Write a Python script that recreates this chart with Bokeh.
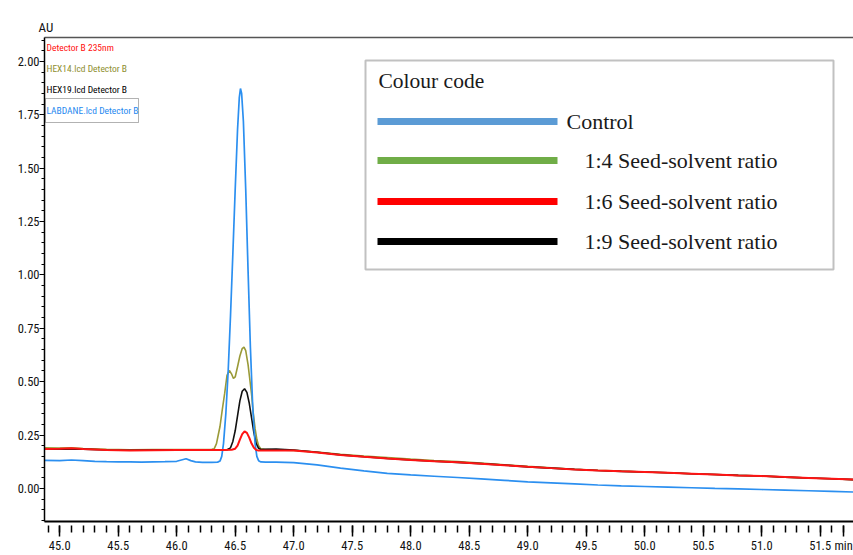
from bokeh.plotting import figure
from bokeh.models import (FixedTicker, NumeralTickFormatter, LinearAxis, Label,
                          BoxAnnotation)
from bokeh.embed import file_html
from bokeh.resources import INLINE
import numpy as np

# ---------------- data (retention time in min, absorbance in AU) ----------------
control_t = [44.87, 45.0, 45.1, 45.2, 45.3, 45.4, 45.5, 45.6, 45.7, 45.8, 45.9, 46.0,
             46.04, 46.08, 46.12, 46.16, 46.22, 46.30, 46.35, 46.37, 46.385, 46.40,
             46.42, 46.44, 46.46, 46.48, 46.50, 46.52, 46.535, 46.545, 46.555, 46.57,
             46.59, 46.61, 46.63, 46.65, 46.67, 46.685, 46.70, 46.72, 46.76, 46.85,
             47.0, 47.2, 47.4, 47.6, 47.8, 48.0, 48.2, 48.4, 48.6, 48.8, 49.0, 49.2,
             49.4, 49.6, 49.8, 50.0, 50.2, 50.4, 50.6, 50.8, 51.0, 51.2, 51.4, 51.6, 51.79]
control_au = [0.131, 0.130, 0.133, 0.130, 0.127, 0.125, 0.124, 0.124, 0.123, 0.124, 0.125, 0.127,
              0.133, 0.139, 0.130, 0.124, 0.122, 0.122, 0.123, 0.128, 0.150, 0.210,
              0.350, 0.550, 0.810, 1.100, 1.400, 1.680, 1.830, 1.873, 1.850, 1.720,
              1.400, 1.020, 0.660, 0.380, 0.210, 0.150, 0.130, 0.124, 0.123, 0.123,
              0.121, 0.110, 0.095, 0.082, 0.070, 0.063, 0.057, 0.051, 0.045, 0.038, 0.031, 0.026,
              0.021, 0.016, 0.012, 0.009, 0.006, 0.003, 0.000, -0.002, -0.005, -0.008, -0.011, -0.014, -0.017]

r14_t = [44.87, 45.0, 45.1, 45.2, 45.4, 45.6, 45.8, 46.0, 46.2, 46.30, 46.32, 46.34,
         46.355, 46.37, 46.39, 46.41, 46.43, 46.45, 46.47, 46.485, 46.50, 46.52, 46.54,
         46.56, 46.575, 46.59, 46.61, 46.625, 46.64, 46.655, 46.67, 46.685, 46.70, 46.72,
         46.75, 46.85, 47.0, 47.2, 47.4, 47.6, 47.8, 48.0, 48.2, 48.4, 48.6, 48.8, 49.0,
         49.2, 49.4, 49.6, 49.8, 50.0, 50.2, 50.4, 50.6, 50.8, 51.0, 51.2, 51.4, 51.6, 51.79]
r14_au = [0.190, 0.189, 0.190, 0.187, 0.183, 0.181, 0.182, 0.182, 0.182, 0.183, 0.185, 0.210,
          0.250, 0.290, 0.370, 0.445, 0.530, 0.552, 0.535, 0.515, 0.522, 0.570, 0.620,
          0.655, 0.662, 0.645, 0.580, 0.510, 0.440, 0.350, 0.280, 0.230, 0.200, 0.185,
          0.183, 0.180, 0.178, 0.170, 0.160, 0.151, 0.144, 0.137, 0.131, 0.126, 0.119, 0.111, 0.103,
          0.096, 0.090, 0.085, 0.081, 0.077, 0.073, 0.069, 0.065, 0.061, 0.058, 0.053, 0.049, 0.045, 0.041]

r16_t = [44.87, 45.0, 45.1, 45.2, 45.4, 45.6, 45.8, 46.0, 46.2, 46.4, 46.47, 46.50,
         46.52, 46.54, 46.56, 46.58, 46.60, 46.62, 46.64, 46.66, 46.68, 46.70, 46.75,
         46.85, 47.0, 47.2, 47.4, 47.6, 47.8, 48.0, 48.2, 48.4, 48.6, 48.8, 49.0, 49.2,
         49.4, 49.6, 49.8, 50.0, 50.2, 50.4, 50.6, 50.8, 51.0, 51.2, 51.4, 51.6, 51.79]
r16_au = [0.185, 0.186, 0.188, 0.185, 0.180, 0.178, 0.179, 0.180, 0.180, 0.180, 0.181, 0.186,
          0.200, 0.228, 0.254, 0.267, 0.260, 0.238, 0.210, 0.190, 0.180, 0.177, 0.177,
          0.178, 0.177, 0.168, 0.157, 0.148, 0.140, 0.133, 0.127, 0.122, 0.116, 0.109, 0.101, 0.095,
          0.089, 0.084, 0.080, 0.077, 0.073, 0.069, 0.065, 0.061, 0.058, 0.053, 0.049, 0.045, 0.041]

r19_t = [44.87, 45.0, 45.2, 45.4, 45.6, 45.8, 46.0, 46.2, 46.40, 46.43, 46.46, 46.48,
         46.50, 46.52, 46.54, 46.56, 46.58, 46.60, 46.62, 46.64, 46.66, 46.68, 46.70,
         46.72, 46.75, 46.85, 47.0, 47.2, 47.4, 47.6, 47.8, 48.0, 48.2, 48.4, 48.6, 48.8,
         49.0, 49.2, 49.4, 49.6, 49.8, 50.0, 50.2, 50.4, 50.6, 50.8, 51.0, 51.2, 51.4, 51.6, 51.79]
r19_au = [0.184, 0.185, 0.184, 0.180, 0.179, 0.180, 0.181, 0.181, 0.181, 0.181, 0.190, 0.220,
          0.270, 0.340, 0.410, 0.455, 0.467, 0.450, 0.400, 0.330, 0.260, 0.210, 0.188,
          0.182, 0.183, 0.184, 0.180, 0.169, 0.157, 0.148, 0.140, 0.133, 0.127, 0.122, 0.116, 0.109,
          0.101, 0.095, 0.089, 0.084, 0.080, 0.077, 0.073, 0.069, 0.065, 0.061, 0.058, 0.053, 0.049, 0.045, 0.041]

x_major_ticks = [45.0, 45.5, 46.0, 46.5, 47.0, 47.5, 48.0, 48.5, 49.0, 49.5, 50.0, 50.5, 51.0, 51.5]
y_major_ticks = [0.0, 0.25, 0.5, 0.75, 1.0, 1.25, 1.5, 1.75, 2.0]
x_unit_pos = 51.7          # where the "min" unit caption sits on the time axis
x_unit_text = "min"
y_unit_text = "AU"

legend_labels = ["Control", "1:4 Seed-solvent ratio", "1:6 Seed-solvent ratio", "1:9 Seed-solvent ratio"]
legend_colors = ["#5B9BD5", "#70AD47", "#FF0000", "#000000"]
detector_labels = ["Detector B 235nm", "HEX14.lcd Detector B", "HEX19.lcd Detector B", "LABDANE.lcd Detector B"]
detector_colors = ["#FF1010", "#8E8E2E", "#000000", "#1E88F0"]

# ---------------- layout helpers (pixel -> data, for annotations only) ----------------
X0, X1 = 44.87, 51.785
Y0, Y1 = -0.155, 2.112
LEFT, TOP, FRAME_W, FRAME_H = 44, 37, 809, 484

def dx(px):
    return X0 + (px - LEFT) * (X1 - X0) / FRAME_W

def dy(py):
    return Y1 - (py - TOP) * (Y1 - Y0) / FRAME_H

NARROW = "'Roboto Condensed', 'Liberation Sans Narrow', 'Arial Narrow', 'DejaVu Sans Condensed', sans-serif"
SERIF = "Liberation Serif"

p = figure(width=853, height=555, x_range=(X0, X1), y_range=(Y0, Y1),
           output_backend="svg", toolbar_location=None,
           min_border_left=LEFT, min_border_right=0, min_border_top=TOP, min_border_bottom=34)
p.outline_line_color = None
p.grid.visible = False
p.background_fill_color = "white"
p.border_fill_color = "white"

# y unit caption as a left-aligned title above the frame
p.title.text = y_unit_text
p.title.align = "left"
p.title.offset = -6
p.title.standoff = 6
p.title.text_font = NARROW
p.title.text_font_size = "13px"
p.title.text_font_style = "normal"
p.title.text_color = "#111111"

# curves
p.line(r14_t, r14_au, line_color="#9A9A38", line_width=1.6)
p.line(r19_t, r19_au, line_color="#111111", line_width=1.6)
p.line(control_t, control_au, line_color="#2B8FF0", line_width=1.7)
p.line(r16_t, r16_au, line_color="#FF1414", line_width=2)

# x axis
xa = p.xaxis[0]
xa.ticker = FixedTicker(ticks=x_major_ticks + [x_unit_pos],
                        minor_ticks=list(np.round(np.arange(44.9, 51.8, 0.1), 2)))
xa.formatter = NumeralTickFormatter(format="0.0")
xa.major_label_overrides = {x_unit_pos: x_unit_text}
xa.axis_line_color = "#000000"
xa.axis_line_width = 2
xa.major_tick_in = -4
xa.major_tick_out = 15
xa.minor_tick_in = -4
xa.minor_tick_out = 11
xa.major_tick_line_color = "#000000"
xa.minor_tick_line_color = "#000000"
xa.major_tick_line_width = 1.5
xa.minor_tick_line_width = 1.5
xa.major_label_standoff = 1
xa.major_label_text_font = NARROW
xa.major_label_text_font_size = "12.5px"
xa.major_label_text_color = "#111111"

# y axis
ya = p.yaxis[0]
ya.ticker = FixedTicker(ticks=y_major_ticks, minor_ticks=list(np.round(np.arange(-0.15, 2.11, 0.05), 2)))
ya.formatter = NumeralTickFormatter(format="0.00")
ya.axis_line_color = "#000000"
ya.axis_line_width = 1.5
ya.major_tick_in = 0
ya.major_tick_out = 5
ya.minor_tick_in = 0
ya.minor_tick_out = 3
ya.major_tick_line_color = "#000000"
ya.minor_tick_line_color = "#000000"
ya.major_label_standoff = 0
ya.major_label_text_font = NARROW
ya.major_label_text_font_size = "12.5px"
ya.major_label_text_color = "#111111"

# top frame line
top_axis = LinearAxis(ticker=FixedTicker(ticks=[]), axis_line_color="#555555", axis_line_width=1.5,
                      major_tick_out=0, minor_tick_out=0, major_label_text_font_size="0px")
p.add_layout(top_axis, "above")

# detector legend (top left)
for txt, col, yc in zip(detector_labels, detector_colors, [46.5, 67.5, 88.5, 110]):
    p.add_layout(Label(x=dx(46), y=dy(yc), text=txt, text_font=NARROW, text_font_size="9.5px",
                       text_color=col, text_baseline="middle", text_align="left"))
p.add_layout(BoxAnnotation(left=dx(45), right=dx(138), top=dy(98), bottom=dy(122),
                           fill_alpha=0, line_color="#000000", line_width=1))

# colour-code legend box
p.add_layout(BoxAnnotation(left=dx(365), right=dx(833), top=dy(60), bottom=dy(269),
                           fill_color="white", fill_alpha=1, line_color="#333333", line_width=2))
p.add_layout(Label(x=dx(378), y=dy(80), text="Colour code", text_font=SERIF, text_font_size="21.5px",
                   text_color="#1a1a1a", text_baseline="middle", text_align="left"))
for yc, lx, txt, col in zip([121, 160, 201, 241], [566, 584, 584, 584], legend_labels, legend_colors):
    p.add_layout(BoxAnnotation(left=dx(377), right=dx(557), top=dy(yc - 3.5), bottom=dy(yc + 3.5),
                               fill_color=col, fill_alpha=1, line_color=None))
    p.add_layout(Label(x=dx(lx), y=dy(yc), text=txt, text_font=SERIF, text_font_size="22px",
                       text_color="#1a1a1a", text_baseline="middle", text_align="left"))

open("out.html", "w").write(file_html(p, INLINE))
